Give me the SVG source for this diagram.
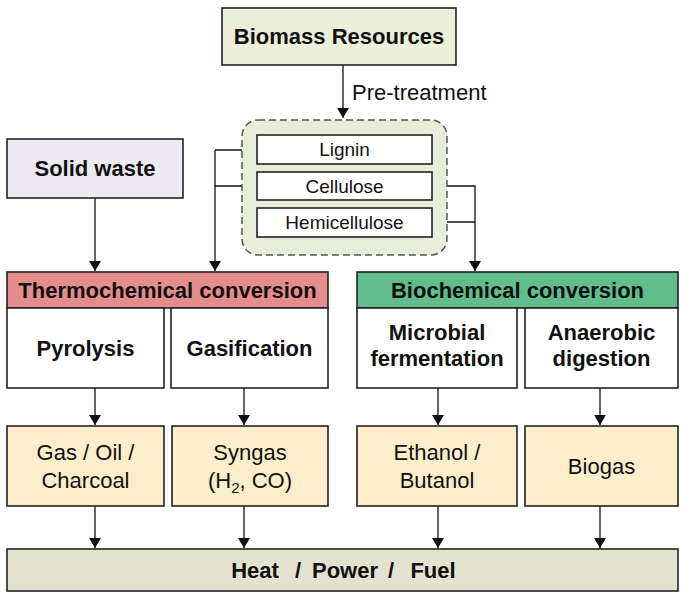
<svg xmlns="http://www.w3.org/2000/svg" width="686" height="598" viewBox="0 0 686 598">
<defs>
<marker id="ah" viewBox="0 0 10 12" refX="10" refY="6" markerWidth="10" markerHeight="12" markerUnits="userSpaceOnUse" orient="auto">
<path d="M0,0 L10,6 L0,12 z" fill="#111"/>
</marker>
<style>
.box{stroke:#222;stroke-width:1.6}
.b{font-family:"Liberation Sans",Arial,sans-serif;font-weight:bold;font-size:22px;fill:#111;text-anchor:middle}
.r{font-family:"Liberation Sans",Arial,sans-serif;font-size:22px;fill:#111;text-anchor:middle}
.s{font-family:"Liberation Sans",Arial,sans-serif;font-size:19px;fill:#111;text-anchor:middle}
.c{fill:none;stroke:#111;stroke-width:1.3}
.ca{fill:none;stroke:#111;stroke-width:1.3;marker-end:url(#ah)}
</style>
</defs>
<rect width="686" height="598" fill="#fff"/>

<g id="connectors">
<path class="ca" d="M343,65 V118"/>
<path class="c" d="M257,150 H215"/>
<path class="ca" d="M257,186 H215 V271"/>
<path class="c" d="M215,150 V186"/>
<path class="c" d="M432,222 H475"/>
<path class="ca" d="M432,186 H475 V271"/>
<path class="ca" d="M95,198 V271"/>
<path class="ca" d="M95,388 V425"/>
<path class="ca" d="M244,388 V425"/>
<path class="ca" d="M438,388 V425"/>
<path class="ca" d="M600,388 V425"/>
<path class="ca" d="M95,506 V548"/>
<path class="ca" d="M244,506 V548"/>
<path class="ca" d="M438,506 V548"/>
<path class="ca" d="M600,506 V548"/>
</g>

<g id="biomass">
<rect class="box" x="222" y="8" width="234" height="57" fill="#ECEFDA"/>
<text class="b" x="339" y="44">Biomass Resources</text>
</g>
<text class="r" x="352" y="100" style="text-anchor:start">Pre-treatment</text>

<g id="components">
<rect x="242" y="120" width="205" height="135" rx="16" ry="16" fill="#E7EDD8" stroke="#555" stroke-width="1.5" stroke-dasharray="7,4"/>
</g>
<g id="lignin">
<rect class="box" x="257" y="135" width="175" height="29" fill="#fff"/>
<text class="s" x="344.5" y="156">Lignin</text>
</g>
<g id="cellulose">
<rect class="box" x="257" y="172" width="175" height="28" fill="#fff"/>
<text class="s" x="344.5" y="193">Cellulose</text>
</g>
<g id="hemicellulose">
<rect class="box" x="257" y="208" width="175" height="29" fill="#fff"/>
<text class="s" x="344.5" y="229">Hemicellulose</text>
</g>

<g id="solid-waste">
<rect class="box" x="7" y="139" width="176" height="59" fill="#EDEAF2"/>
<text class="b" x="95" y="176">Solid waste</text>
</g>

<g id="thermochemical">
<rect class="box" x="7" y="272" width="321" height="36" fill="#E58D8D"/>
<text class="b" x="167.5" y="298">Thermochemical conversion</text>
</g>
<g id="pyrolysis">
<rect class="box" x="7" y="308" width="157" height="80" fill="#fff"/>
<text class="b" x="85.5" y="356">Pyrolysis</text>
</g>
<g id="gasification">
<rect class="box" x="171" y="308" width="157" height="80" fill="#fff"/>
<text class="b" x="249.5" y="356">Gasification</text>
</g>

<g id="biochemical">
<rect class="box" x="357" y="272" width="321" height="36" fill="#62BD8C"/>
<text class="b" x="517.5" y="298">Biochemical conversion</text>
</g>
<g id="microbial">
<rect class="box" x="357" y="308" width="160" height="80" fill="#fff"/>
<text class="b" x="437" y="340">Microbial</text>
<text class="b" x="437" y="366">fermentation</text>
</g>
<g id="anaerobic">
<rect class="box" x="525" y="308" width="153" height="80" fill="#fff"/>
<text class="b" x="601.5" y="340">Anaerobic</text>
<text class="b" x="601.5" y="366">digestion</text>
</g>

<g id="gas-oil">
<rect class="box" x="7" y="426" width="157" height="80" fill="#FCEECB"/>
<text class="r" x="85.5" y="460">Gas / Oil /</text>
<text class="r" x="85.5" y="488">Charcoal</text>
</g>
<g id="syngas">
<rect class="box" x="172" y="426" width="156" height="80" fill="#FCEECB"/>
<text class="r" x="250" y="460">Syngas</text>
<text class="r" x="250" y="488">(H<tspan font-size="15" dy="5">2</tspan><tspan dy="-5">, CO)</tspan></text>
</g>
<g id="ethanol">
<rect class="box" x="357" y="426" width="160" height="80" fill="#FCEECB"/>
<text class="r" x="437" y="460">Ethanol /</text>
<text class="r" x="437" y="488">Butanol</text>
</g>
<g id="biogas">
<rect class="box" x="525" y="426" width="153" height="80" fill="#FCEECB"/>
<text class="r" x="601.5" y="474">Biogas</text>
</g>

<g id="heat-power-fuel">
<rect class="box" x="7" y="549" width="671" height="42" fill="#E2E2CE"/>
<text class="b" x="255" y="578">Heat</text>
<text class="b" x="298" y="578">/</text>
<text class="b" x="345" y="578">Power</text>
<text class="b" x="391" y="578">/</text>
<text class="b" x="433" y="578">Fuel</text>
</g>
</svg>
